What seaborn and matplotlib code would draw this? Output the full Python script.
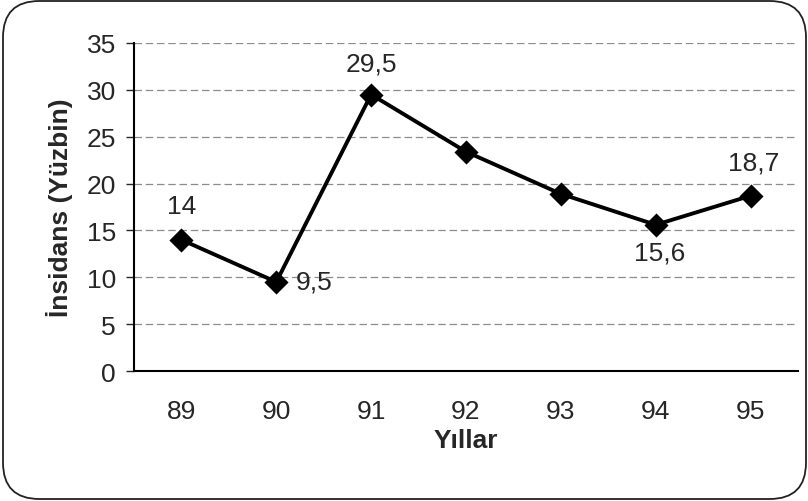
import numpy as np
import pandas as pd
import matplotlib.pyplot as plt
import seaborn as sns
from matplotlib.patches import FancyBboxPatch

sns.set_style('white')
plt.rcParams['font.family'] = ['Liberation Sans', 'DejaVu Sans']

years = ['89', '90', '91', '92', '93', '94', '95']
incidence = [14, 9.5, 29.5, 23.4, 18.9, 15.6, 18.7]
labels = ['14', '9,5', '29,5', None, None, '15,6', '18,7']
offsets = [(0, 24), (27, 0), (0, 22), None, None, (3, -20), (2, 24)]

df = pd.DataFrame({'year': years, 'val': incidence})

W, H = 808, 502
fig = plt.figure(figsize=(W / 100, H / 100), dpi=100)
border = FancyBboxPatch((3 / W, 2 / H), 1 - 5 / W, 1 - 4 / H, boxstyle='round,pad=0,rounding_size=0.045',
                        transform=fig.transFigure, fc='white', ec='#222222', lw=1.3,
                        mutation_aspect=W / H, zorder=-10)
fig.patches.append(border)
ax = fig.add_axes([134 / W, 1 - 372 / H, 664 / W, 328 / H])
ax.set_facecolor('none')

sns.pointplot(data=df, x='year', y='val', color='black', markers='D', markersize=10.5,
              linewidth=2.8, ax=ax)

for i, (lab, off) in enumerate(zip(labels, offsets)):
    if lab is None:
        continue
    ax.annotate(lab, (i, incidence[i]), xytext=off, textcoords='offset points',
                ha='center', va='center', fontsize=19)

ax.set_ylim(0, 35)
ax.set_xlim(-0.5, 6.5)
ax.set_yticks(range(0, 36, 5))
ax.yaxis.grid(True, ls=(0, (6, 3)), color='#8c8c8c', lw=0.9)
ax.set_axisbelow(True)
for s in ['top', 'right']:
    ax.spines[s].set_visible(False)
for s in ['left', 'bottom']:
    ax.spines[s].set_color('black')
    ax.spines[s].set_linewidth(1.5)
ax.set_xticks(np.arange(-0.5, 7, 1), minor=True)
ax.tick_params(axis='x', which='major', length=0, pad=20, labelsize=19)
ax.tick_params(axis='x', which='minor', length=6, direction='out', width=1)
ax.tick_params(axis='y', length=6, direction='out', width=1, labelsize=19, pad=7, left=True)
ax.set_xlabel('Yıllar', fontsize=19, fontweight='bold', labelpad=4)
ax.set_ylabel('İnsidans (Yüzbin)', fontsize=19, fontweight='bold', labelpad=10)

fig.savefig('out.png', dpi=100)
